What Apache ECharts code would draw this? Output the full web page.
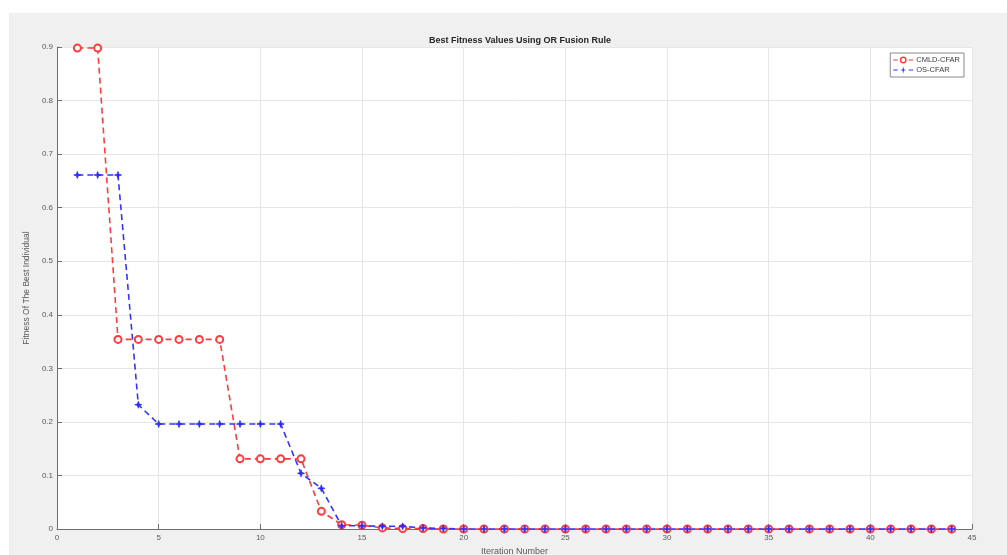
<!DOCTYPE html>
<html>
<head>
<meta charset="utf-8">
<script src="https://cdn.jsdelivr.net/npm/echarts@6/dist/echarts.min.js"></script>
<style>
  html, body { margin: 0; padding: 0; background: #ffffff; }
  #panel { position: absolute; left: 9px; top: 13px; width: 998px; height: 542px; background: #f0f0f0; }
  #chart { position: absolute; left: 0; top: 0; width: 1007px; height: 555px; }
</style>
</head>
<body>
<div id="panel"></div>
<div id="chart"></div>
<script>
// Iterations 1..44
const iterations = Array.from({ length: 44 }, (_, i) => i + 1);

// Best fitness per iteration, CMLD-CFAR detector
const cmldCfar = [
  0.898, 0.898, 0.354, 0.354, 0.354, 0.354, 0.354, 0.354, 0.131, 0.131,
  0.131, 0.131, 0.033, 0.008, 0.007, 0.002, 0.001, 0.001, 0, 0,
  0, 0, 0, 0, 0, 0, 0, 0, 0, 0,
  0, 0, 0, 0, 0, 0, 0, 0, 0, 0,
  0, 0, 0, 0
];

// Best fitness per iteration, OS-CFAR detector
const osCfar = [
  0.661, 0.661, 0.661, 0.232, 0.196, 0.196, 0.196, 0.196, 0.196, 0.196,
  0.196, 0.104, 0.076, 0.006, 0.006, 0.005, 0.005, 0.002, 0.001, 0,
  0, 0, 0, 0, 0, 0, 0, 0, 0, 0,
  0, 0, 0, 0, 0, 0, 0, 0, 0, 0,
  0, 0, 0, 0
];

const seriesNames = ['CMLD-CFAR', 'OS-CFAR'];
const titleText = 'Best Fitness Values Using OR Fusion Rule';
const xName = 'Iteration Number';
const yName = 'Fitness Of The Best Individual';

const FONT = '"Liberation Sans", Arial, Helvetica, sans-serif';
const AXIS_COLOR = '#6e6e6e';
const LABEL_COLOR = '#5a5a5a';
const RED = '#ff3b3b';
const BLUE = '#3434ff';

// Marker for OS-CFAR: compact four-point star
const starPath = 'path://M0,5 L3.8,3.8 L5,0 L6.2,3.8 L10,5 L6.2,6.2 L5,10 L3.8,6.2 Z';

// Legend icons: dash, marker, dash
const legendDashes = 'M0,3 L4.5,3 L4.5,4.2 L0,4.2 Z M15.5,3 L20,3 L20,4.2 L15.5,4.2 Z ';
const legendRing = 'path://' + legendDashes +
  'M6.6,3.6 A3.4,3.4 0 1,1 13.4,3.6 A3.4,3.4 0 1,1 6.6,3.6 Z ' +
  'M8,3.6 A2,2 0 1,0 12,3.6 A2,2 0 1,0 8,3.6 Z';
const legendStar = 'path://' + legendDashes +
  'M6.8,3.6 L9.3,3.0 L10,0.2 L10.7,3.0 L13.2,3.6 L10.7,4.2 L10,7 L9.3,4.2 Z';

const chart = echarts.init(document.getElementById('chart'), null, { renderer: 'canvas' });

chart.setOption({
  backgroundColor: 'transparent',
  animation: false,
  title: {
    text: titleText,
    left: 515,
    textAlign: 'center',
    top: 31,
    textStyle: { fontFamily: FONT, fontSize: 9, fontWeight: 'bold', color: '#262626' }
  },
  legend: {
    orient: 'vertical',
    right: 43,
    top: 53,
    padding: [3, 4, 3, 3],
    itemGap: 2,
    itemWidth: 20,
    itemHeight: 7,
    backgroundColor: '#ffffff',
    borderColor: '#8a8a8a',
    borderWidth: 1,
    borderRadius: 0,
    textStyle: { fontFamily: FONT, fontSize: 7.5, color: '#3a3a3a', padding: [0, 0, 0, -2] },
    data: [
      { name: seriesNames[0], icon: legendRing, itemStyle: { color: RED, borderWidth: 0 } },
      { name: seriesNames[1], icon: legendStar, itemStyle: { color: BLUE, borderWidth: 0 } }
    ]
  },
  grid: {
    left: 57,
    right: 35,
    top: 47,
    bottom: 26,
    show: true,
    backgroundColor: '#ffffff',
    borderWidth: 0,
    containLabel: false,
    outerBoundsMode: 'none'
  },
  xAxis: {
    type: 'value',
    min: 0,
    max: 45,
    interval: 5,
    name: xName,
    nameLocation: 'middle',
    nameGap: 15,
    nameTextStyle: { fontFamily: FONT, fontSize: 9, color: LABEL_COLOR },
    axisLine: { show: true, lineStyle: { color: AXIS_COLOR, width: 1 } },
    axisTick: { show: true, inside: true, length: 5, lineStyle: { color: AXIS_COLOR } },
    axisLabel: { fontFamily: FONT, fontSize: 8, color: LABEL_COLOR, margin: 5 },
    splitLine: { show: true, lineStyle: { color: '#e6e6e6', width: 1 } }
  },
  yAxis: {
    type: 'value',
    min: 0,
    max: 0.9,
    interval: 0.1,
    name: yName,
    nameLocation: 'middle',
    nameGap: 21,
    nameTextStyle: { fontFamily: FONT, fontSize: 8.5, color: LABEL_COLOR },
    axisLine: { show: true, lineStyle: { color: AXIS_COLOR, width: 1 } },
    axisTick: { show: true, inside: true, length: 5, lineStyle: { color: AXIS_COLOR } },
    axisLabel: { fontFamily: FONT, fontSize: 8, color: LABEL_COLOR, margin: 4 },
    splitLine: { show: true, lineStyle: { color: '#e6e6e6', width: 1 } }
  },
  series: [
    {
      name: seriesNames[0],
      type: 'line',
      data: iterations.map((x, i) => [x, cmldCfar[i]]),
      symbol: 'emptyCircle',
      symbolSize: 7,
      showAllSymbol: true,
      lineStyle: { color: RED, width: 1.6, type: [6, 4] },
      itemStyle: { color: RED, borderColor: RED, borderWidth: 1.7 }
    },
    {
      name: seriesNames[1],
      type: 'line',
      data: iterations.map((x, i) => [x, osCfar[i]]),
      symbol: starPath,
      symbolSize: 7,
      showAllSymbol: true,
      lineStyle: { color: BLUE, width: 1.6, type: [6, 4] },
      itemStyle: { color: '#2a2aff', borderColor: '#2a2aff', borderWidth: 0.8 }
    }
  ]
});
</script>
</body>
</html>
